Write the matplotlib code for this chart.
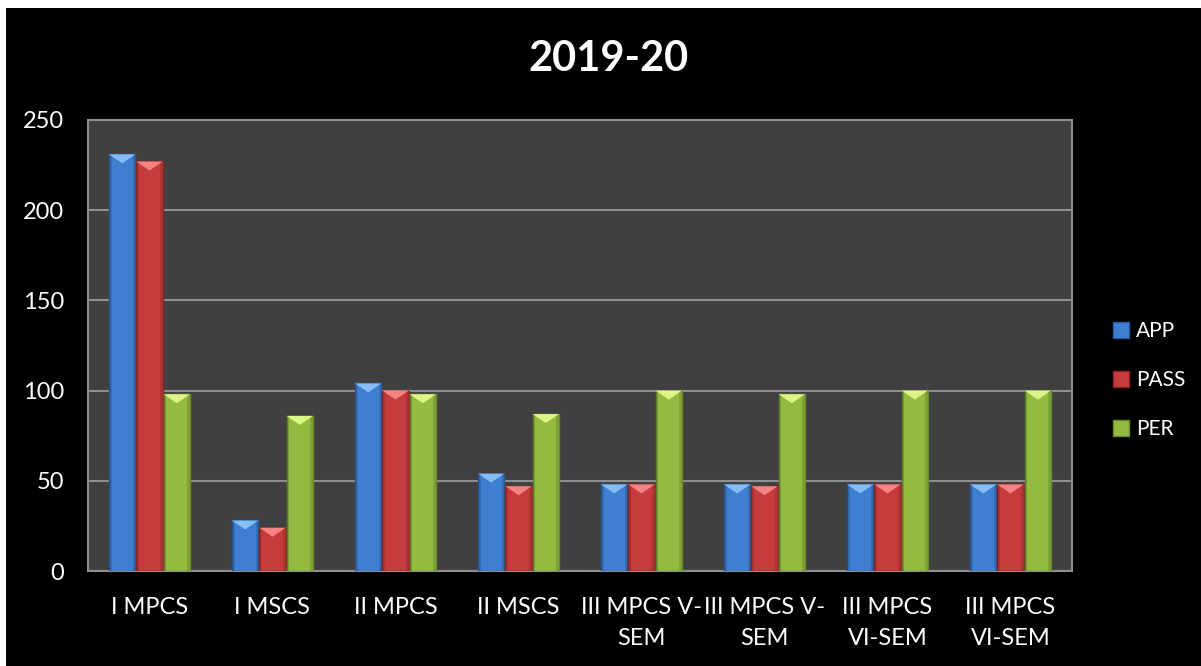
import matplotlib
matplotlib.use("Agg")
import matplotlib.pyplot as plt
import matplotlib.patches as mpatches
import numpy as np

categories = ["I MPCS", "I MSCS", "II MPCS", "II MSCS", "III MPCS V-\nSEM",
              "III MPCS V-\nSEM", "III MPCS\nVI-SEM", "III MPCS\nVI-SEM"]
app = [231, 28, 104, 54, 48, 48, 48, 48]
pas = [227, 24, 100, 47, 48, 47, 48, 48]
per = [98, 86, 98, 87, 100, 98, 100, 100]
series_names = ["APP", "PASS", "PER"]
yticks = [0, 50, 100, 150, 200, 250]
title = "2019-20"

colors = ["#3f7fcf", "#c63c3c", "#93bb41"]
edge = ["#2a5a99", "#8e2626", "#6b8a2c"]
light = ["#86bdf7", "#f58383", "#dcf585"]

FONT = "Lato"
W, H = 1201, 666
fig = plt.figure(figsize=(W / 100, H / 100), dpi=100, facecolor="white")
fig.patches.append(mpatches.Rectangle((6 / W, 0), 1, 1 - 8 / H, transform=fig.transFigure,
                                      facecolor="black", edgecolor="none", zorder=-10))

ax = fig.add_axes([88 / W, 1 - 571 / H, (1072 - 88) / W, (571 - 120) / H])
ax.set_facecolor("#404040")
ax.set_ylim(0, 250)
ax.set_xlim(-0.5, len(categories) - 0.5)
ax.set_yticks(yticks)
ax.yaxis.grid(True, color="#8f8f8f", linewidth=1.5)
ax.set_axisbelow(True)
for s in ax.spines.values():
    s.set_color("#8f8f8f")
    s.set_linewidth(1.5)
ax.tick_params(axis="both", length=0, colors="white", labelsize=17)
ax.tick_params(axis="y", pad=17)
ax.tick_params(axis="x", pad=19)
for lab in ax.get_yticklabels():
    lab.set_fontfamily(FONT)
    lab.set_color("white")

x = np.arange(len(categories))
bw = 1 / 4.5
data = [app, pas, per]
px_per_unit = ax.bbox.height / 250
dip = 9 / px_per_unit
for i, vals in enumerate(data):
    xs = x + (i - 1) * bw
    bars = ax.bar(xs, vals, width=bw * 0.97, color=colors[i], edgecolor=edge[i],
                  linewidth=1, label=series_names[i], zorder=3)
    for b in bars:
        x0 = b.get_x()
        w = b.get_width()
        h = b.get_height()
        d = min(dip, h)
        ax.add_patch(mpatches.Rectangle((x0, 0), w * 0.1, h, facecolor="black",
                                        alpha=0.12, edgecolor="none", zorder=4))
        ax.add_patch(mpatches.Rectangle((x0 + w * 0.9, 0), w * 0.1, h, facecolor="black",
                                        alpha=0.12, edgecolor="none", zorder=4))
        ax.add_patch(mpatches.Polygon([(x0, h), (x0 + w, h), (x0 + w / 2, h - d)], closed=True,
                                      facecolor=light[i], edgecolor="none", zorder=5))

ax.set_xticks(x)
ax.set_xticklabels(categories, fontfamily=FONT, color="white", fontsize=17,
                   linespacing=1.55)

fig.text(609 / W, 1 - 59 / H, title, ha="center", va="center", color="white",
         fontsize=30, fontweight="bold", fontfamily=FONT)

handles = [mpatches.Patch(facecolor=colors[i], edgecolor=edge[i], label=series_names[i])
           for i in range(3)]
leg = fig.legend(handles=handles, loc="center left", bbox_to_anchor=(1094 / W, 1 - 380 / H),
                 frameon=False, labelspacing=1.4, handlelength=0.8,
                 handleheight=0.8, handletextpad=0.3, prop={"family": FONT, "size": 15})
for t in leg.get_texts():
    t.set_color("white")

fig.savefig("out.png", dpi=100, facecolor=fig.get_facecolor())
